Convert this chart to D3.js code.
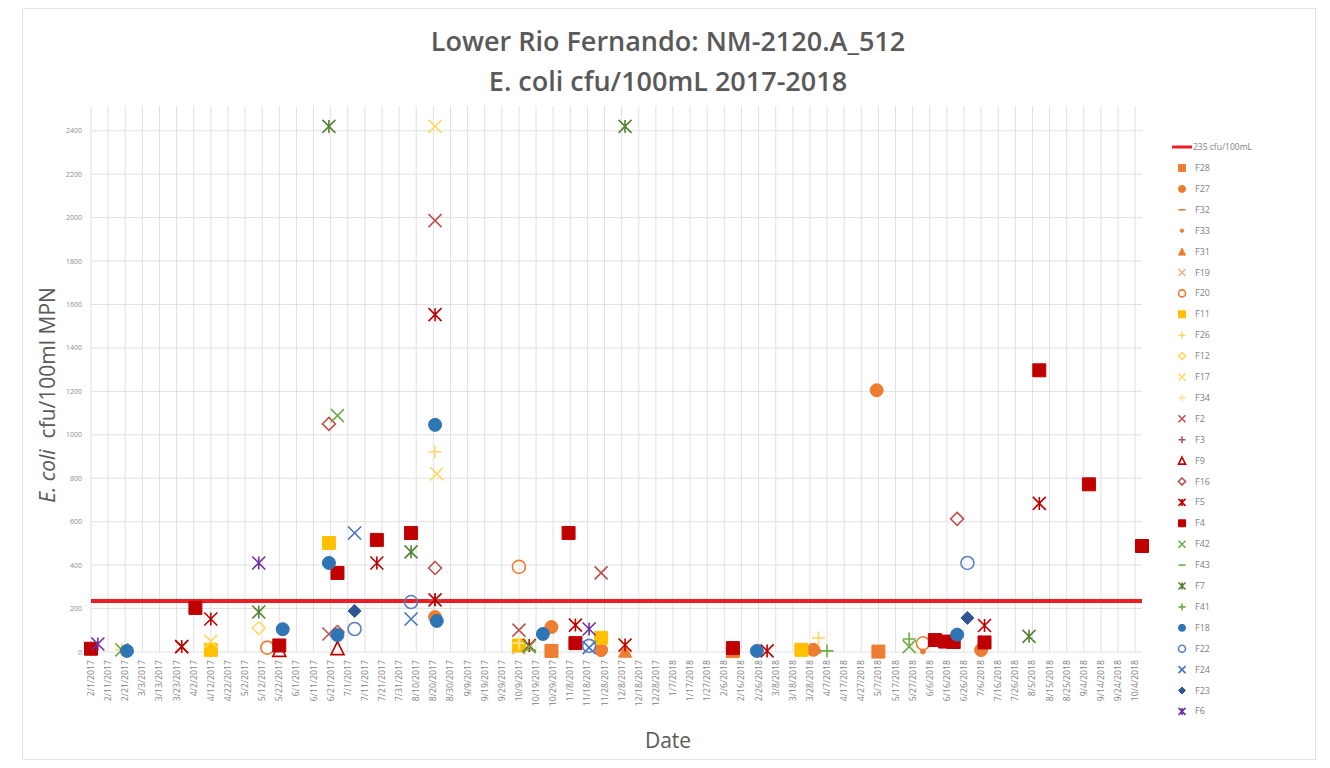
<!DOCTYPE html>
<html>
<head>
<meta charset="utf-8">
<script src="https://cdn.jsdelivr.net/npm/d3@7/dist/d3.min.js"></script>
<style>
    body { margin: 0; background: #fff; }
    text { font-family: "Open Sans", "Liberation Sans", sans-serif; }
</style>
</head>
<body>
<svg width="1330" height="768"></svg>
<script>
// threshold
var limitValue = 235;
var limitLabel = "235 cfu/100mL";

// y ticks
var yTicks = [0, 200, 400, 600, 800, 1000, 1200, 1400, 1600, 1800, 2000, 2200, 2400];

// sample results per site: [date, cfu/100mL]
var F28 = [["2017-10-28", 5], ["2018-05-07", 2], ["2018-02-11", 4]];
var F27 = [["2017-08-21", 161], ["2017-10-28", 115], ["2017-11-26", 9], ["2018-03-30", 10], ["2018-05-06", 1205], ["2018-07-06", 9]];
var F32 = [["2017-11-26", 20]];
var F33 = [["2018-04-02", 3], ["2018-06-02", 2]];
var F31 = [["2017-12-10", 6]];
var F19 = [["2017-10-09", 20]];
var F20 = [["2017-05-15", 20], ["2017-10-09", 392], ["2018-06-02", 40]];
var F11 = [["2017-04-12", 10], ["2017-06-20", 502], ["2017-10-09", 30], ["2017-11-26", 65], ["2018-03-23", 10]];
var F26 = [["2017-02-19", 10], ["2017-08-21", 922], ["2018-04-02", 65]];
var F12 = [["2017-05-10", 110]];
var F17 = [["2017-04-12", 50], ["2017-08-21", 2420], ["2017-08-22", 820], ["2017-12-10", 30]];
var F34 = [["2017-10-09", 40]];
var F2 = [["2017-03-26", 25], ["2017-06-20", 83], ["2017-08-21", 1986], ["2017-10-09", 101], ["2017-11-26", 364]];
var F3 = [["2017-08-21", 240]];
var F9 = [["2017-05-22", 10], ["2017-06-25", 18]];
var F16 = [["2017-06-20", 1050], ["2017-06-25", 92], ["2017-08-21", 387], ["2018-06-22", 613]];
var F5 = [["2017-03-26", 25], ["2017-04-12", 152], ["2017-07-18", 410], ["2017-08-21", 1553], ["2017-08-21", 240],
    ["2017-10-15", 30], ["2017-11-11", 124], ["2017-12-10", 32], ["2018-03-03", 5], ["2018-07-08", 122], ["2018-08-09", 684]];
var F4 = [["2017-02-01", 15], ["2017-04-03", 203], ["2017-05-22", 30], ["2017-06-25", 364], ["2017-07-18", 516],
    ["2017-08-07", 548], ["2017-11-07", 548], ["2017-11-11", 41], ["2018-02-11", 18], ["2018-06-09", 55],
    ["2018-06-15", 48], ["2018-06-20", 46], ["2018-07-08", 44], ["2018-08-09", 1297], ["2018-09-07", 772], ["2018-10-08", 488]];
var F42 = [["2017-02-19", 10], ["2017-06-25", 1088], ["2017-10-15", 25], ["2018-05-25", 25]];
var F43 = [["2017-10-15", 10]];
var F7 = [["2017-05-10", 184], ["2017-06-20", 2420], ["2017-08-07", 461], ["2017-12-10", 2420], ["2018-08-03", 72]];
var F41 = [["2018-04-07", 5], ["2018-05-25", 60]];
var F18 = [["2017-02-22", 5], ["2017-05-24", 105], ["2017-06-20", 410], ["2017-06-25", 78], ["2017-08-21", 1046],
    ["2017-08-22", 143], ["2017-10-23", 83], ["2018-02-25", 5], ["2018-06-22", 80]];
var F22 = [["2017-07-05", 106], ["2017-08-07", 230], ["2017-11-19", 28], ["2018-06-28", 410]];
var F24 = [["2017-07-05", 548], ["2017-08-07", 152], ["2017-11-19", 20]];
var F23 = [["2017-07-05", 189], ["2018-06-28", 157]];
var F6 = [["2017-02-05", 37], ["2017-05-10", 410], ["2017-11-19", 106]];

var seriesNames = ["F28", "F27", "F32", "F33", "F31", "F19", "F20", "F11", "F26", "F12", "F17", "F34",
    "F2", "F3", "F9", "F16", "F5", "F4", "F42", "F43", "F7", "F41", "F18", "F22", "F24", "F23", "F6"];
var seriesData = [F28, F27, F32, F33, F31, F19, F20, F11, F26, F12, F17, F34,
    F2, F3, F9, F16, F5, F4, F42, F43, F7, F41, F18, F22, F24, F23, F6];

// marker style per series: [shape, colour, filled]
var seriesStyle = [
    ["square", "#ED7D31", true], ["circle", "#ED7D31", true], ["dash", "#ED7D31", false], ["dot", "#ED7D31", true],
    ["triangle", "#ED7D31", true], ["x", "#F4B183", false], ["circle", "#ED7D31", false], ["square", "#FFC000", true],
    ["plus", "#FFD966", false], ["diamond", "#FFD966", false], ["x", "#FFD966", false], ["plus", "#FFE699", false],
    ["x", "#C0504D", false], ["plus", "#C0504D", false], ["triangle", "#C00000", false], ["diamond", "#C0504D", false],
    ["star", "#C00000", false], ["square", "#C00000", true], ["x", "#70AD47", false], ["dash", "#70AD47", false],
    ["star", "#548235", false], ["plus", "#70AD47", false], ["circle", "#2E75B6", true], ["circle", "#5B7FC4", false],
    ["x", "#4472C4", false], ["diamond", "#2F5597", true], ["star", "#7030A0", false]
];

var svg = d3.select("svg");
var parseDate = d3.utcParse("%Y-%m-%d");
var fmt = function (d) { return (d.getUTCMonth() + 1) + "/" + d.getUTCDate() + "/" + d.getUTCFullYear(); };

var x = d3.scaleUtc().domain([parseDate("2017-02-01"), parseDate("2018-10-08")]).range([91, 1142]),
    y = d3.scaleLinear().domain([0, 2500]).range([652, 109]);

var xTicks = d3.utcDay.range(parseDate("2017-02-01"), parseDate("2018-10-05"), 10);

// outer frame
svg.append("rect")
    .attr("x", 22.5).attr("y", 8.5)
    .attr("width", 1293).attr("height", 751)
    .attr("fill", "#fff")
    .attr("stroke", "#e3e3e3");

//titles
svg.append("text")
    .attr("x", 668).attr("y", 51)
    .attr("text-anchor", "middle")
    .attr("font-size", "27px")
    .attr("font-weight", 600)
    .attr("fill", "#595959")
    .text("Lower Rio Fernando: NM-2120.A_512");

svg.append("text")
    .attr("x", 668).attr("y", 91)
    .attr("text-anchor", "middle")
    .attr("font-size", "27px")
    .attr("font-weight", 600)
    .attr("fill", "#595959")
    .text("E. coli cfu/100mL 2017-2018");

// grid
var g = svg.append("g");

g.selectAll(".vgrid")
    .data(xTicks)
    .enter().append("line")
    .attr("x1", function (d) { return x(d); })
    .attr("x2", function (d) { return x(d); })
    .attr("y1", 106).attr("y2", y(0))
    .attr("stroke", "#e0e0e0")
    .attr("stroke-width", 1);

g.selectAll(".hgrid")
    .data(yTicks)
    .enter().append("line")
    .attr("x1", x.range()[0]).attr("x2", x.range()[1])
    .attr("y1", function (d) { return y(d); })
    .attr("y2", function (d) { return y(d); })
    .attr("stroke", "#e0e0e0")
    .attr("stroke-width", 1);

//y tick labels
g.selectAll(".ylab")
    .data(yTicks)
    .enter().append("text")
    .attr("x", 82)
    .attr("y", function (d) { return y(d) + 2.5; })
    .attr("text-anchor", "end")
    .attr("font-size", "7px")
    .attr("fill", "#8c8c8c")
    .text(function (d) { return d; });

//x tick labels, rotated
g.selectAll(".xlab")
    .data(xTicks)
    .enter().append("text")
    .attr("transform", function (d) { return "translate(" + (x(d) + 3) + ",660) rotate(-90)"; })
    .attr("text-anchor", "end")
    .attr("font-size", "8.7px")
    .attr("fill", "#7f7f7f")
    .text(fmt);

// axis titles
var yt = svg.append("text")
    .attr("transform", "translate(55,395) rotate(-90)")
    .attr("text-anchor", "middle")
    .attr("font-size", "21px")
    .attr("fill", "#595959");
yt.append("tspan").attr("font-style", "italic").text("E. coli");
yt.append("tspan").attr("xml:space", "preserve").text("  cfu/100ml MPN");

svg.append("text")
    .attr("x", 668).attr("y", 748)
    .attr("text-anchor", "middle")
    .attr("font-size", "21px")
    .attr("fill", "#595959")
    .text("Date");

// limit line
g.append("line")
    .attr("x1", x.range()[0]).attr("x2", x.range()[1])
    .attr("y1", y(limitValue)).attr("y2", y(limitValue))
    .attr("stroke", "#EE1C25")
    .attr("stroke-width", 4);

// marker shapes
function markerPath(shape, s) {
    var h = s / 2;
    if (shape == "square") return "M" + -h + "," + -h + "h" + s + "v" + s + "h" + -s + "Z";
    if (shape == "circle") return d3.symbol(d3.symbolCircle, Math.PI * h * h)();
    if (shape == "dot") return d3.symbol(d3.symbolCircle, Math.PI * h * h * 0.3)();
    if (shape == "triangle") return "M0," + -h + "L" + h + "," + h + "L" + -h + "," + h + "Z";
    if (shape == "diamond") return "M0," + -h + "L" + h + ",0L0," + h + "L" + -h + ",0Z";
    if (shape == "x") return "M" + -h + "," + -h + "L" + h + "," + h + "M" + h + "," + -h + "L" + -h + "," + h;
    if (shape == "plus") return "M" + -h + ",0H" + h + "M0," + -h + "V" + h;
    if (shape == "dash") return "M" + -h + ",0H" + h;
    if (shape == "star") return "M" + -h + "," + -h + "L" + h + "," + h + "M" + h + "," + -h + "L" + -h + "," + h +
        "M0," + -h + "V" + h;
    return "";
}

function styleMarker(sel, st, s) {
    var filled = st[2];
    sel.attr("d", markerPath(st[0], s))
        .attr("fill", filled ? st[1] : "none")
        .attr("stroke", st[1])
        .attr("stroke-width", filled ? 1 : 1.6);
}

// draw points
seriesData.forEach(function (data, i) {
    var st = seriesStyle[i];
    var size = st[0] == "dot" ? 9 : 13;
    g.selectAll(".pt" + i)
        .data(data)
        .enter().append("path")
        .attr("transform", function (d) { return "translate(" + x(parseDate(d[0])) + "," + y(d[1]) + ")"; })
        .call(styleMarker, st, size);
});

// legend
var lg = svg.append("g").attr("transform", "translate(1172,0)");
lg.append("line")
    .attr("x1", 0).attr("x2", 20)
    .attr("y1", 147).attr("y2", 147)
    .attr("stroke", "#EE1C25")
    .attr("stroke-width", 3);
lg.append("text")
    .attr("x", 21).attr("y", 150)
    .attr("font-size", "8.5px")
    .attr("fill", "#7f7f7f")
    .text(limitLabel);

seriesNames.forEach(function (name, i) {
    var ly = 168 + i * 20.9;
    lg.append("path")
        .attr("transform", "translate(10," + ly + ")")
        .call(styleMarker, seriesStyle[i], seriesStyle[i][0] == "dot" ? 6 : 7);
    lg.append("text")
        .attr("x", 23).attr("y", ly + 3)
        .attr("font-size", "9px")
        .attr("fill", "#7f7f7f")
        .text(name);
});
</script>
</body>
</html>
